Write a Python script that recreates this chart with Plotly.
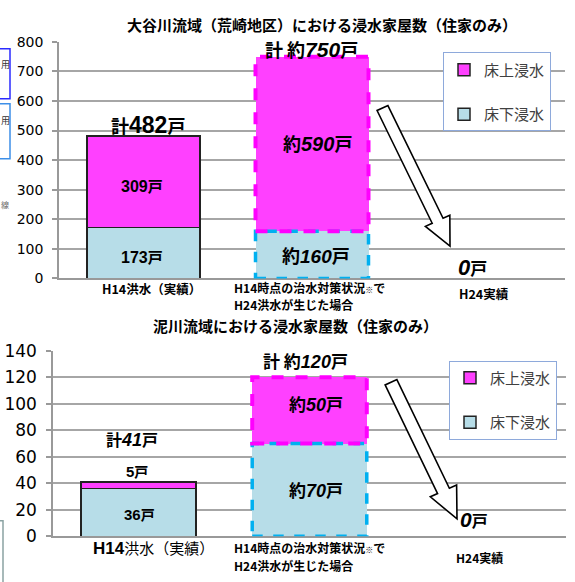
import math
import plotly.graph_objects as go

W, H = 575, 582

# ---------------- data ----------------
categories = ["H14洪水（実績）", "H14時点の治水対策状況※で<br>H24洪水が生じた場合", "H24実績"]
series_names = ["床下浸水", "床上浸水"]
is_estimate = [False, True, False]

ohtani_title = "大谷川流域（荒崎地区）における浸水家屋数（住家のみ）"
ohtani_yukashita = [173, 160, 0]   # 床下浸水
ohtani_yukaue = [309, 590, 0]      # 床上浸水
ohtani_ticks = [0, 100, 200, 300, 400, 500, 600, 700, 800]

doro_title = "泥川流域における浸水家屋数（住家のみ）"
doro_yukashita = [36, 70, 0]
doro_yukaue = [5, 50, 0]
doro_ticks = [0, 20, 40, 60, 80, 100, 120, 140]

# ---------------- style ----------------
PINK = "#FF40FF"
BLUE = "#B7DDE8"
PINK_DASH = "#FF00FF"
BLUE_DASH = "#00B0F0"
GRID = "#A6A6A6"
BAR_W = 0.67
CJK = "Noto Sans CJK JP"
NUM = "Liberation Sans"


def px(x):
    return x / W


def py(y):
    return 1 - y / H


xs = list(range(len(categories)))

fig = go.Figure()

charts = [
    dict(xa="x", ya="y", lg="legend", shita=ohtani_yukashita, ue=ohtani_yukaue),
    dict(xa="x2", ya="y2", lg="legend2", shita=doro_yukashita, ue=doro_yukaue),
]

shapes = []
for c in charts:
    for rank, (name, vals, col) in enumerate([(series_names[0], c["shita"], BLUE),
                                              (series_names[1], c["ue"], PINK)]):
        lw = [1.5 if (not est and v > 0) else 0 for v, est in zip(vals, is_estimate)]
        fig.add_trace(go.Bar(
            x=xs, y=vals, name=name, width=BAR_W,
            marker=dict(color=col, line=dict(color="#222222", width=lw)),
            xaxis=c["xa"], yaxis=c["ya"], legend=c["lg"], legendgroup=name,
            legendrank=2 - rank, hoverinfo="skip",
        ))
    # dashed outlines for estimated bars
    for i, est in enumerate(is_estimate):
        if not est:
            continue
        s, u = c["shita"][i], c["ue"][i]
        shapes.append(dict(type="rect", xref=c["xa"], yref=c["ya"],
                           x0=i - BAR_W / 2, x1=i + BAR_W / 2, y0=0, y1=s,
                           line=dict(color=BLUE_DASH, width=3.5, dash="dash"), layer="above"))
        shapes.append(dict(type="rect", xref=c["xa"], yref=c["ya"],
                           x0=i - BAR_W / 2, x1=i + BAR_W / 2, y0=s, y1=s + u,
                           line=dict(color=PINK_DASH, width=4, dash="dash"), layer="above"))


def arrow(tail, tip, hw, HW, L):
    dx, dy = tip[0] - tail[0], tip[1] - tail[1]
    d = math.hypot(dx, dy)
    ux, uy = dx / d, dy / d
    nx, ny = uy, -ux
    bx, by = tip[0] - L * ux, tip[1] - L * uy
    pts = [
        (tail[0] + hw * nx, tail[1] + hw * ny),
        (bx + hw * nx, by + hw * ny),
        (bx + HW * nx, by + HW * ny),
        tip,
        (bx - HW * nx, by - HW * ny),
        (bx - hw * nx, by - hw * ny),
        (tail[0] - hw * nx, tail[1] - hw * ny),
    ]
    path = "M " + " L ".join(f"{px(a):.5f},{py(b):.5f}" for a, b in pts) + " Z"
    return dict(type="path", xref="paper", yref="paper", path=path,
                fillcolor="white", line=dict(color="black", width=1.6), layer="above")


shapes.append(arrow((382.5, 101.5), (450, 244.5), 6, 13.5, 29))
shapes.append(arrow((391, 385.5), (457, 527), 6.5, 14.5, 32))

# left edge fragments of surrounding document
shapes.append(dict(type="rect", xref="paper", yref="paper", x0=px(-5), x1=px(10), y0=py(92), y1=py(40),
                   line=dict(color="#2B2BFF", width=1.5)))
shapes.append(dict(type="rect", xref="paper", yref="paper", x0=px(-5), x1=px(10), y0=py(154), y1=py(97),
                   line=dict(color="#3D8FE8", width=1.5)))
shapes.append(dict(type="rect", xref="paper", yref="paper", x0=px(-5), x1=px(3), y0=py(600), y1=py(529),
                   line=dict(color="#8AA3A3", width=1.5)))

annotations = []


def ann(text, x, y, size=14, family=CJK, color="black", xanchor="center", yanchor="middle",
        xref="paper", yref="paper", align="center", borderpad=1):
    annotations.append(dict(text=text, x=x, y=y, xref=xref, yref=yref, showarrow=False,
                            xanchor=xanchor, yanchor=yanchor, align=align, borderpad=borderpad,
                            font=dict(family=family, size=size, color=color)))


def num(v, size, italic=True):
    st = "italic" if italic else "normal"
    return (f'<span style="font-family:{NUM};font-size:{size}px;font-weight:bold;'
            f'font-style:{st}">{v}</span>')


def lbl(v, est, nsize, italic=True):
    return ("<b>約</b>" if est else "") + num(v, nsize, italic) + "<b>戸</b>"


NOTE = '<span style="font-size:8px">※</span>'

# titles
ann(f"<b>{ohtani_title}</b>", px(322), py(15), size=15)
ann(f"<b>{doro_title}</b>", px(295), py(327), size=15)

# ---- top chart labels ----
t0 = ohtani_yukashita[0] + ohtani_yukaue[0]
t1 = ohtani_yukashita[1] + ohtani_yukaue[1]
ann("<b>計</b>" + num(t0, 23, False) + "<b>戸</b>", px(148), py(119), size=18)
ann("<b>計 </b>" + lbl(t1, True, 21), px(311), py(40), size=18)
ann(lbl(ohtani_yukaue[0], False, 16, False), px(142), py(182), size=15)
ann(lbl(ohtani_yukashita[0], False, 16, False), px(142), py(255), size=15)
ann(lbl(ohtani_yukaue[1], True, 20), px(317), py(138), size=18)
ann(lbl(ohtani_yukashita[1], True, 19), px(316), py(254), size=18)
ann(num(ohtani_yukashita[2] + ohtani_yukaue[2], 22) + "<b>戸</b>", px(472), py(267), size=17)

ann("<b>H14洪水（実績）</b>", px(151), py(288), size=12.5)
ann(f"<b>H14時点の治水対策状況{NOTE}で</b>", px(233), py(287), size=12, xanchor="left", borderpad=0)
ann("<b>H24洪水が生じた場合</b>", px(233), py(305), size=12, xanchor="left", borderpad=0)
ann("<b>H24実績</b>", px(484), py(294), size=12.5)

# ---- bottom chart labels ----
b0 = doro_yukashita[0] + doro_yukaue[0]
b1 = doro_yukashita[1] + doro_yukaue[1]
ann("<b>計</b>" + num(b0, 18, True) + "<b>戸</b>", px(132), py(444), size=16)
ann("<b>計 </b>" + lbl(b1, True, 18), px(305), py(363), size=17)
ann(lbl(doro_yukaue[0], False, 15, False), px(137), py(477), size=14)
ann(lbl(doro_yukashita[0], False, 15, False), px(139), py(522), size=14)
ann(lbl(doro_yukaue[1], True, 18), px(316), py(407), size=17)
ann(lbl(doro_yukashita[1], True, 18), px(316), py(497), size=17)
ann(num(doro_yukashita[2] + doro_yukaue[2], 21) + "<b>戸</b>", px(474), py(528), size=16)

ann('<span style="font-family:Liberation Sans;font-weight:bold;font-size:17px">H14</span>洪水（実績）',
    px(153), py(557), size=15)
ann(f"<b>H14時点の治水対策状況{NOTE}で</b>", px(233), py(557), size=12, xanchor="left", borderpad=0)
ann("<b>H24洪水が生じた場合</b>", px(233), py(575), size=12, xanchor="left", borderpad=0)
ann("<b>H24実績</b>", px(479), py(567), size=12)

# left edge fragment texts
ann("用", px(5), py(56), size=9, color="#333333")
ann("用", px(5), py(114), size=9, color="#333333")
ann("線", px(5), py(201), size=8, color="#666666")

legend_common = dict(
    xanchor="left", yanchor="top", bgcolor="white", bordercolor="#8EA9DB", borderwidth=1,
    font=dict(family=CJK, size=15, color="#404040"), traceorder="grouped",
    tracegroupgap=22, itemwidth=30,
)

axis_common_y = dict(showline=True, linecolor="#999999", linewidth=1.5, ticks="outside",
                     ticklen=5, tickcolor="#999999", tickwidth=1.5, showgrid=True,
                     gridcolor=GRID, gridwidth=1.5, zeroline=False, ticklabelstandoff=6,
                     fixedrange=True)
axis_common_x = dict(range=[-0.5, 2.5], showticklabels=False, showgrid=False, zeroline=False,
                     showline=True, linecolor="#999999", linewidth=1.5, ticks="", fixedrange=True)

fig.update_layout(
    width=W, height=H, margin=dict(l=0, r=0, t=0, b=0),
    paper_bgcolor="white", plot_bgcolor="white",
    barmode="stack", bargap=0.33, showlegend=True,
    xaxis=dict(domain=[px(59), px(565)], anchor="y", **axis_common_x),
    yaxis=dict(domain=[py(278), py(33)], anchor="x", range=[0, 800], tickvals=ohtani_ticks,
               tickfont=dict(family="DejaVu Sans", size=14, color="black"),
               **axis_common_y),
    xaxis2=dict(domain=[px(53), px(566)], anchor="y2", **axis_common_x),
    yaxis2=dict(domain=[py(545), py(353)], anchor="x2", range=[0, 140], tickvals=doro_ticks,
                tickfont=dict(family="DejaVu Sans", size=17, color="black"),
                **axis_common_y),
    legend=dict(x=px(443), y=py(44), **legend_common),
    legend2=dict(x=px(449), y=py(363), **legend_common),
    shapes=shapes,
    annotations=annotations,
)

fig.write_html("out.html")
